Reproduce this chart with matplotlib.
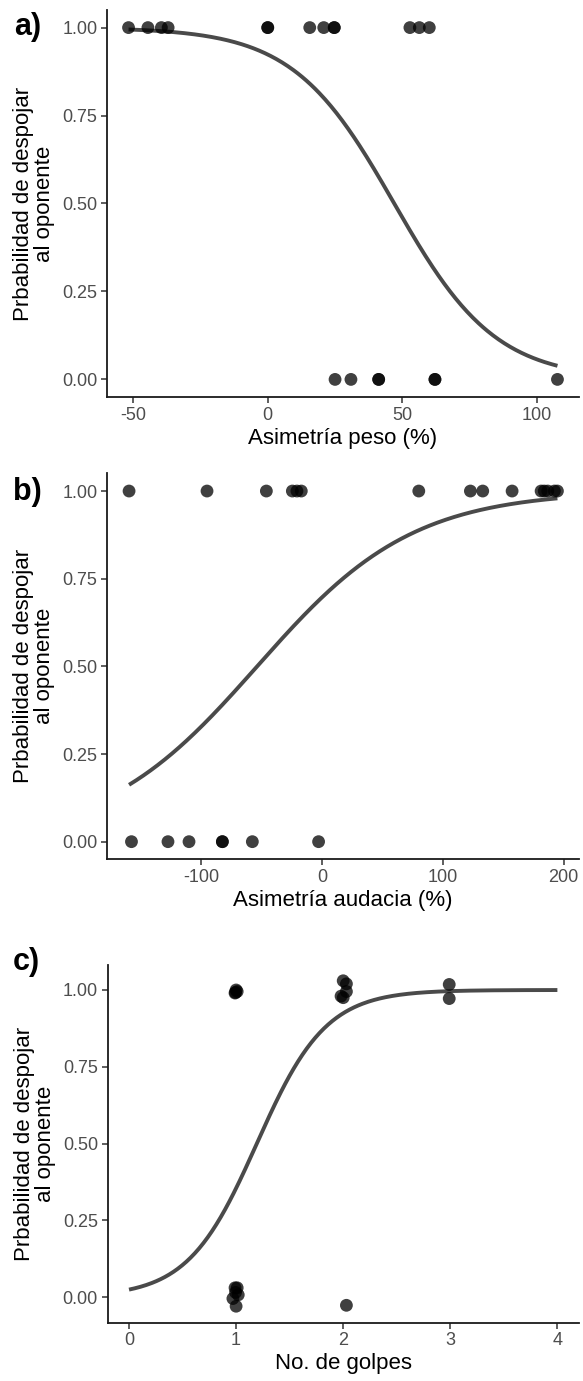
import matplotlib
matplotlib.use("Agg")
import matplotlib.pyplot as plt
import numpy as np

plt.rcParams['font.family'] = ['Liberation Sans', 'DejaVu Sans']

# ---------------- data ----------------
# panel a: weight asymmetry (%)
a_x_win = [-51.7, -44.5, -39.5, -37.0, 0.0, 0.0, 15.6, 20.8, 24.7, 24.7, 52.8, 56.3, 60.0]
a_x_lose = [25.0, 30.9, 41.2, 41.2, 62.1, 62.1, 107.6]
a_coef = [2.49, -0.053]          # logistic fit (intercept, slope)
a_xticks = [-50, 0, 50, 100]

# panel b: boldness asymmetry (%)
b_x_win = [-159.5, -95.0, -45.9, -24.4, -20.6, -17.0, 80.2, 122.9, 133.1, 157.4,
           181.4, 184.0, 186.9, 192.4, 194.9]
b_x_lose = [-157.5, -127.3, -109.9, -82.3, -82.3, -57.5, -2.7]
b_coef = [0.83, 0.0155]
b_xticks = [-100, 0, 100, 200]

# panel c: number of blows (jittered points)
c_x = [0.99, 1.00, 1.01, 0.995,
       0.99, 1.01, 0.97, 1.02, 1.00, 0.995,
       2.00, 2.03, 1.98, 2.03, 2.00,
       2.03,
       2.99, 2.99]
c_y = [0.99, 1.00, 0.995, 0.992,
       0.03, 0.03, -0.005, 0.007, -0.03, 0.015,
       1.03, 1.02, 0.98, 0.995, 0.975,
       -0.027,
       1.018, 0.972]
c_coef = [-3.7, 3.1]
c_xticks = [0, 1, 2, 3, 4]

y_ticks = [0.0, 0.25, 0.5, 0.75, 1.0]
y_ticklabels = ["0.00", "0.25", "0.50", "0.75", "1.00"]
ylabel = "Prbabilidad de despojar\nal oponente"
xlabels = ["Asimetría peso (%)", "Asimetría audacia (%)", "No. de golpes"]
panel_tags = ["a)", "b)", "c)"]

# ---------------- figure ----------------
W, H = 583, 1381
fig = plt.figure(figsize=(W / 100, H / 100), dpi=100)


def add_ax(left, top, right, bottom):
    return fig.add_axes([left / W, 1 - bottom / H, (right - left) / W, (bottom - top) / H])


def logistic(coef, x):
    return 1.0 / (1.0 + np.exp(-(coef[0] + coef[1] * x)))


def style(ax, xticks, xlabel, ylim, xlim):
    for s in ['top', 'right']:
        ax.spines[s].set_visible(False)
    for s in ['left', 'bottom']:
        ax.spines[s].set_linewidth(1.3)
        ax.spines[s].set_color('#1a1a1a')
    ax.set_xlim(*xlim)
    ax.set_ylim(*ylim)
    ax.set_xticks(xticks)
    ax.set_xticklabels([str(t) for t in xticks])
    ax.set_yticks(y_ticks)
    ax.set_yticklabels(y_ticklabels)
    ax.tick_params(axis='both', direction='out', length=4, width=1.1, color='#333333',
                   labelsize=13, labelcolor='#4d4d4d', pad=3)
    ax.set_xlabel(xlabel, fontsize=16, color='black', labelpad=3)
    ax.set_ylabel(ylabel, fontsize=16, color='black', labelpad=5, linespacing=1.0)


def tag(text, x, y):
    fig.text(x / W, 1 - y / H, text, fontsize=22, fontweight='bold', ha='left', va='center')


pt_kw = dict(s=85, color='black', alpha=0.75, edgecolors='none', zorder=3)
line_kw = dict(color='#4a4a4a', lw=2.8, zorder=2, solid_capstyle='butt')

# panel a
ax = add_ax(107, 10, 579, 397)
xa = np.linspace(min(a_x_win + a_x_lose), max(a_x_win + a_x_lose), 300)
ax.plot(xa, logistic(a_coef, xa), **line_kw)
ax.scatter(a_x_win, [1] * len(a_x_win), **pt_kw)
ax.scatter(a_x_lose, [0] * len(a_x_lose), **pt_kw)
style(ax, a_xticks, xlabels[0], (-0.05, 1.05), (-59.7, 115.6))
tag(panel_tags[0], 14, 27)

# panel b
ax = add_ax(107, 473.5, 579, 859.2)
xb = np.linspace(min(b_x_win + b_x_lose), max(b_x_win + b_x_lose), 300)
ax.plot(xb, logistic(b_coef, xb), **line_kw)
ax.scatter(b_x_win, [1] * len(b_x_win), **pt_kw)
ax.scatter(b_x_lose, [0] * len(b_x_lose), **pt_kw)
style(ax, b_xticks, xlabels[1], (-0.05, 1.05), (-177.75, 212.75))
tag(panel_tags[1], 13, 492)

# panel c
ax = add_ax(107.6, 964.5, 578.8, 1322.5)
xc = np.linspace(0, 4, 300)
ax.plot(xc, logistic(c_coef, xc), **line_kw)
ax.scatter(c_x, c_y, **pt_kw)
style(ax, c_xticks, xlabels[2], (-0.083, 1.083), (-0.2, 4.2))
tag(panel_tags[2], 13, 962)

fig.savefig("out.png", dpi=100, facecolor='white')
